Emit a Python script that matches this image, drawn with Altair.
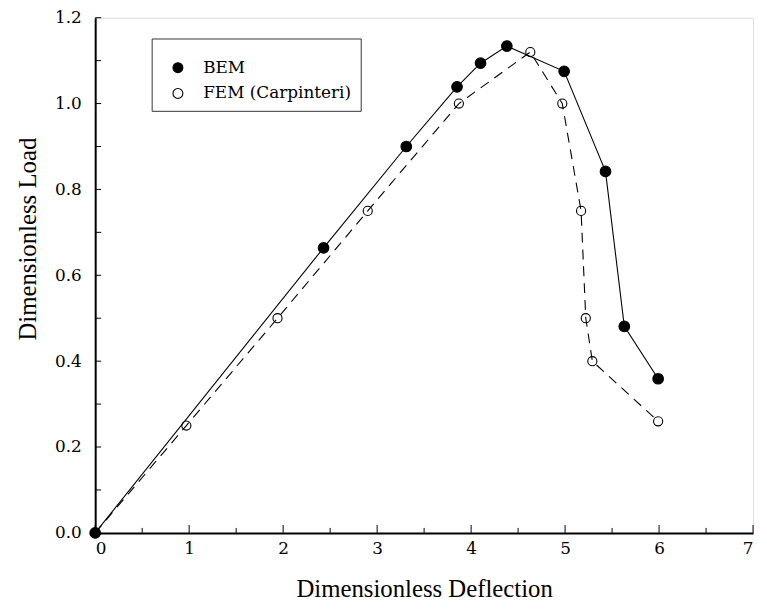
import altair as alt
import pandas as pd

# Data
bem_x = [0.0, 2.43, 3.31, 3.85, 4.10, 4.38, 4.99, 5.43, 5.63, 5.99]
bem_y = [0.0, 0.664, 0.90, 1.039, 1.094, 1.134, 1.075, 0.842, 0.481, 0.359]
fem_x = [0.0, 0.97, 1.94, 2.90, 3.87, 4.63, 4.97, 5.17, 5.22, 5.29, 5.99]
fem_y = [0.0, 0.25, 0.50, 0.75, 1.00, 1.12, 1.00, 0.75, 0.50, 0.40, 0.26]
series_names = ["BEM", "FEM (Carpinteri)"]

x_major = [0, 1, 2, 3, 4, 5, 6, 7]
x_minor = [0.5, 1.5, 2.5, 3.5, 4.5, 5.5, 6.5]
y_ticks = [0.0, 0.1, 0.2, 0.3, 0.4, 0.5, 0.6, 0.7, 0.8, 0.9, 1.0, 1.1, 1.2]
y_labels = [0.0, 0.2, 0.4, 0.6, 0.8, 1.0, 1.2]

W, H = 664, 520

rows = []
for i, (x, y) in enumerate(zip(fem_x, fem_y)):
    rows.append({"series": series_names[1], "x": x, "y": y, "idx": i})
for i, (x, y) in enumerate(zip(bem_x, bem_y)):
    rows.append({"series": series_names[0], "x": x, "y": y, "idx": i})
df = pd.DataFrame(rows)

xscale = alt.Scale(domain=[0, 7], nice=False, zero=False)
yscale = alt.Scale(domain=[0, 1.2], nice=False, zero=False)

TICK_FONT = "DejaVu Serif"
TITLE_FONT = "Liberation Serif"

x_axis = alt.Axis(
    title="Dimensionless Deflection", values=x_major, format="d",
    ticks=False, grid=False, domainColor="black", domainWidth=2,
    labelFont=TICK_FONT, labelFontSize=17, labelColor="black", labelPadding=8,
    titleFont=TITLE_FONT, titleFontSize=25, titleFontWeight="normal",
    titleColor="black", titlePadding=20)
y_axis = alt.Axis(
    title="Dimensionless Load", values=y_labels, format=".1f",
    ticks=False, grid=False, domainColor="black", domainWidth=2,
    labelFont=TICK_FONT, labelFontSize=17, labelColor="black", labelPadding=14,
    titleFont=TITLE_FONT, titleFontSize=25, titleFontWeight="normal",
    titleColor="black", titlePadding=14, titleY=223)

legend = alt.Legend(
    title=" ", titleFontSize=10, titlePadding=2,
    orient="none", legendX=57, legendY=21,
    strokeColor="#333", padding=9, rowPadding=8,
    symbolSize=100, symbolStrokeColor="black", symbolStrokeWidth=1.1,
    labelFont=TICK_FONT, labelFontSize=17, labelColor="black",
    labelOffset=17, symbolOffset=9)

def X():
    return alt.X("x:Q", scale=xscale, axis=x_axis)

def Y():
    return alt.Y("y:Q", scale=yscale, axis=y_axis)

def F():
    return alt.Fill("series:N", sort=series_names, scale=alt.Scale(
        domain=series_names, range=["black", "transparent"]), legend=legend)

base = alt.Chart(df)
bem = base.transform_filter(alt.datum.series == series_names[0])
fem = base.transform_filter(alt.datum.series == series_names[1])

bem_line = bem.mark_line(color="black", strokeWidth=1.1).encode(
    x=X(), y=Y(), order="idx:Q")
fem_line = fem.mark_line(color="black", strokeWidth=1.1, strokeDash=[10, 7]).encode(
    x=X(), y=Y(), order="idx:Q")

fem_pts = fem.mark_point(shape="circle", size=85, stroke="black",
                         strokeWidth=1.1, opacity=1).encode(x=X(), y=Y(), fill=F())
bem_pts = bem.mark_point(shape="circle", size=115, stroke="black",
                         strokeWidth=1.1, opacity=1).encode(x=X(), y=Y(), fill=F())

xt_df = pd.DataFrame({"x": x_major})
xm_df = pd.DataFrame({"x": x_minor})
yt_df = pd.DataFrame({"y": y_ticks})

x_major_ticks = alt.Chart(xt_df).mark_rule(color="black", strokeWidth=1).encode(
    x=X(), y=alt.value(H), y2=alt.value(H - 8))
x_minor_ticks = alt.Chart(xm_df).mark_rule(color="black", strokeWidth=1).encode(
    x=X(), y=alt.value(H), y2=alt.value(H - 5))
y_minor_ticks = alt.Chart(yt_df).mark_rule(color="black", strokeWidth=1).encode(
    y=Y(), x=alt.value(0), x2=alt.value(6))

chart = alt.layer(
    bem_line, fem_line, fem_pts, bem_pts, x_major_ticks, x_minor_ticks, y_minor_ticks
).properties(
    width=W, height=H,
    autosize=alt.AutoSizeParams(type="none"),
    padding={"left": 88, "top": 7, "right": 6, "bottom": 70},
).configure_view(strokeWidth=0).configure(background="white")

chart.save("out.html", embed_options={"renderer": "svg", "actions": False})
